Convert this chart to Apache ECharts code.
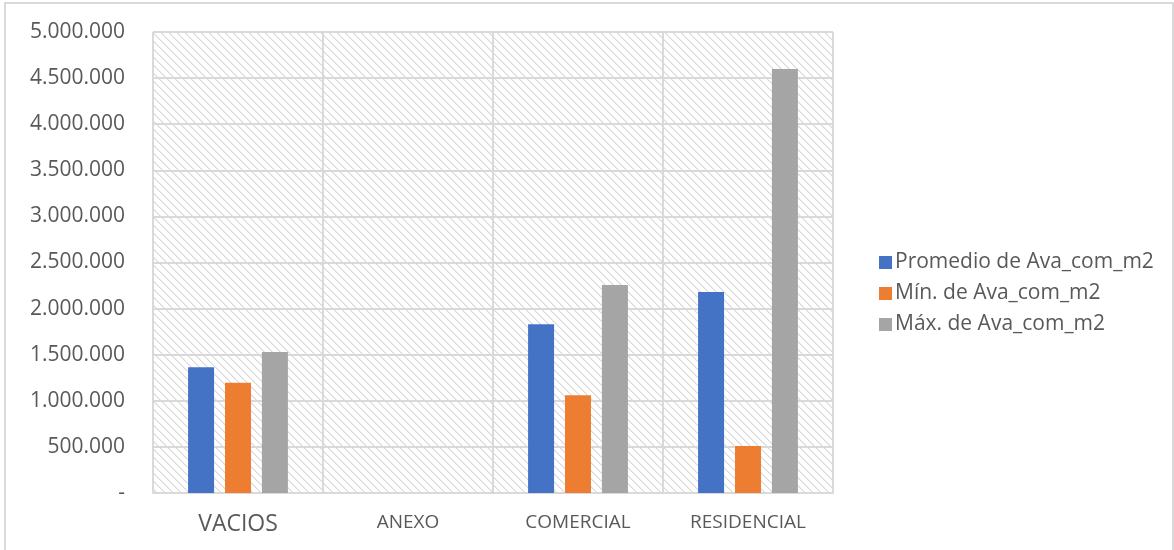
<!DOCTYPE html>
<html>
<head>
<meta charset="utf-8">
<script src="https://cdn.jsdelivr.net/npm/echarts@6/dist/echarts.min.js"></script>
<style>
  html, body { margin: 0; padding: 0; background: #fff; }
  #chart { width: 1174px; height: 550px; }
</style>
</head>
<body>
<div id="chart"></div>
<script>
// Categories and series values (Ava_com_m2 by tipo)
const categories = ['VACIOS', 'ANEXO', 'COMERCIAL', 'RESIDENCIAL'];
const promedio = [1365000, null, 1830000, 2180000];
const minimo   = [1195000, null, 1060000, 510000];
const maximo   = [1530000, null, 2255000, 4600000];
const seriesNames = ['Promedio de Ava_com_m2', 'Mín. de Ava_com_m2', 'Máx. de Ava_com_m2'];
const yTicks = [0, 500000, 1000000, 1500000, 2000000, 2500000, 3000000, 3500000, 4000000, 4500000, 5000000];

const FONT = '"Open Sans", Lato, sans-serif';
const TEXT = '#595959';
const GRIDC = '#d9d9d9';

// Diagonal hatch tile for the plot background
function hatchTile() {
  const c = document.createElement('canvas');
  c.width = 8; c.height = 8;
  const ctx = c.getContext('2d');
  ctx.fillStyle = '#ffffff';
  ctx.fillRect(0, 0, 8, 8);
  for (let y = 0; y < 8; y++) {
    for (let x = 0; x < 8; x++) {
      const d = ((x - y) % 8 + 8) % 8;
      if (d === 0) { ctx.fillStyle = '#d8d8d8'; ctx.fillRect(x, y, 1, 1); }
      else if (d === 1) { ctx.fillStyle = '#ececec'; ctx.fillRect(x, y, 1, 1); }
    }
  }
  return c;
}

function fmt(v) {
  if (v === 0) return '-';
  return String(v).replace(/\B(?=(\d{3})+(?!\d))/g, '.');
}

const chart = echarts.init(document.getElementById('chart'), null, { renderer: 'canvas' });
const barStyle = { barWidth: 26, barGap: '42%' };

chart.setOption({
  animation: false,
  backgroundColor: '#ffffff',
  color: ['#4472c4', '#ed7d31', '#a5a5a5'],
  graphic: [{
    type: 'rect',
    shape: { x: 5, y: 3, width: 1168, height: 560 },
    style: { fill: 'none', stroke: '#d9d9d9', lineWidth: 2 },
    silent: true, z: -10
  }],
  grid: {
    left: 153, top: 32, width: 680, height: 461,
    show: true,
    backgroundColor: { image: hatchTile(), repeat: 'repeat' },
    borderWidth: 0
  },
  legend: {
    orient: 'vertical',
    left: 874, top: 247,
    itemWidth: 13, itemHeight: 13, itemGap: 10,
    icon: 'rect',
    textStyle: { color: TEXT, fontFamily: FONT, fontSize: 21, padding: [0, 0, 0, -2] },
    data: seriesNames
  },
  xAxis: {
    type: 'category',
    data: categories,
    axisLine: { show: true, lineStyle: { color: GRIDC, width: 2 } },
    axisTick: { show: false },
    splitLine: { show: true, lineStyle: { color: GRIDC, width: 2 } },
    axisLabel: {
      margin: 20,
      color: TEXT, fontFamily: FONT, fontSize: 19,
      formatter: v => v === 'VACIOS' ? '{big|' + v + '}' : v,
      rich: { big: { fontSize: 23, color: TEXT, fontFamily: FONT } }
    }
  },
  yAxis: {
    type: 'value',
    min: yTicks[0], max: yTicks[yTicks.length - 1], interval: yTicks[1] - yTicks[0],
    axisLine: { show: false },
    axisTick: { show: false },
    splitLine: { show: true, lineStyle: { color: GRIDC, width: 2 } },
    axisLabel: { margin: 28, color: TEXT, fontFamily: FONT, fontSize: 21, formatter: fmt }
  },
  series: [
    Object.assign({ type: 'bar', name: seriesNames[0], data: promedio }, barStyle),
    Object.assign({ type: 'bar', name: seriesNames[1], data: minimo }, barStyle),
    Object.assign({ type: 'bar', name: seriesNames[2], data: maximo }, barStyle)
  ]
});
</script>
</body>
</html>
